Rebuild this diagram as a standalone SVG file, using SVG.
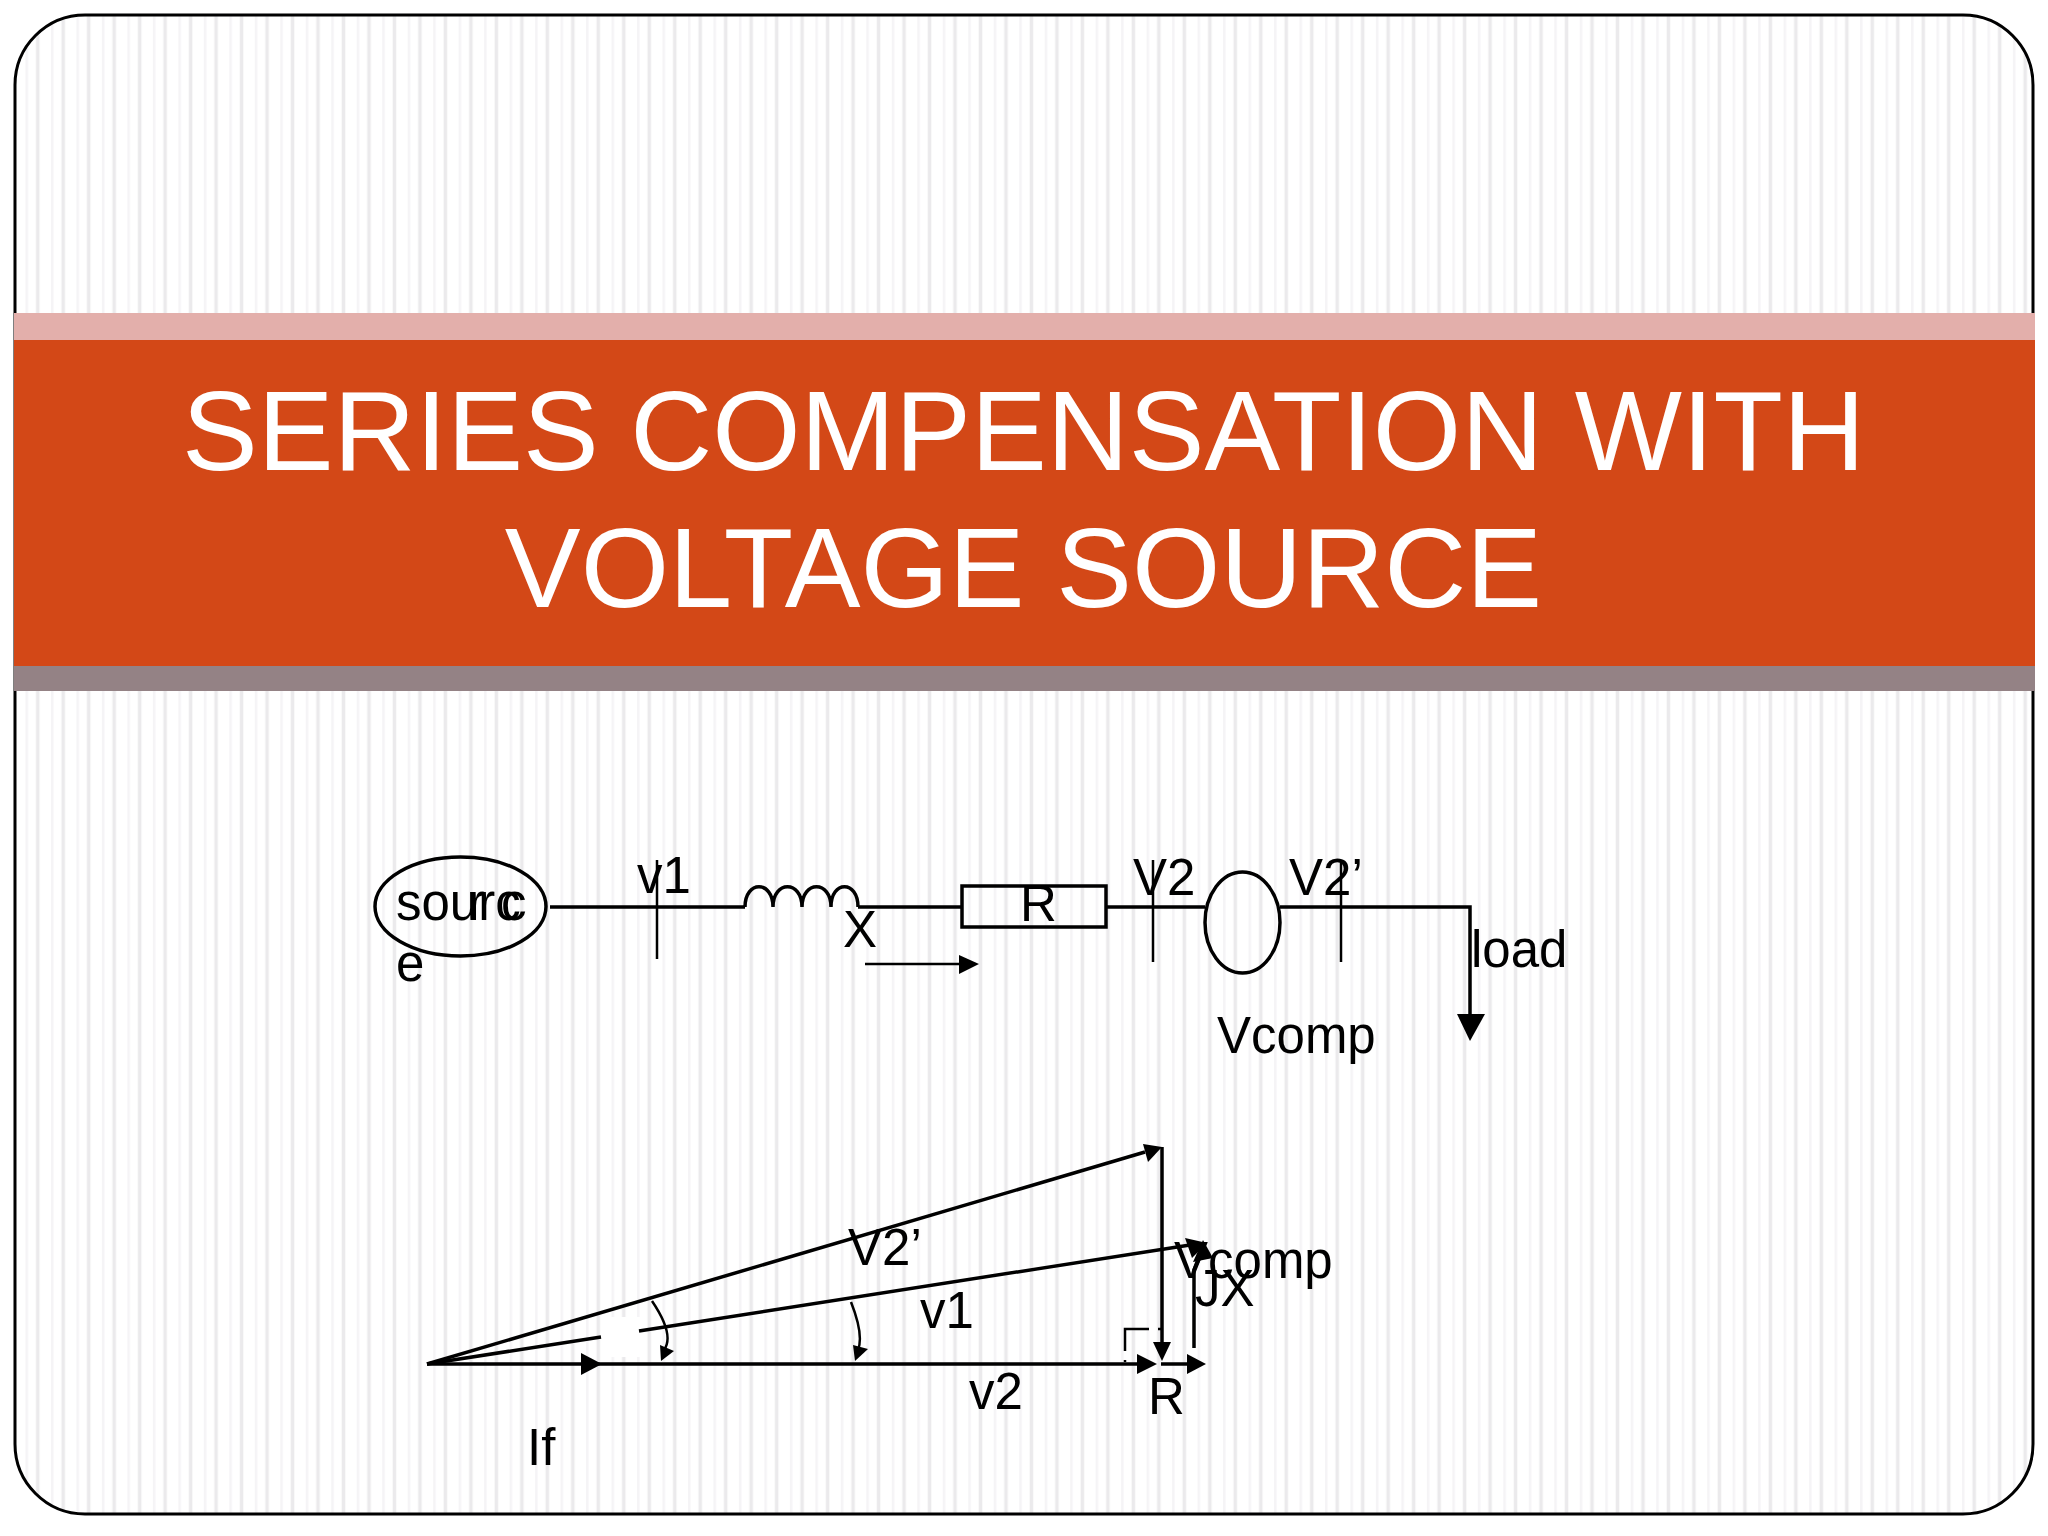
<svg xmlns="http://www.w3.org/2000/svg" width="2048" height="1536" viewBox="0 0 2048 1536">
<style>
text{font-family:"Liberation Sans",Arial,sans-serif;fill:#000}
.l{font-size:51px}
.t{font-size:113.6px;fill:#fff;text-anchor:middle}
.w{fill:none;stroke:#000;stroke-width:3.5}
.n{fill:none;stroke:#000;stroke-width:2.5}
.h{fill:#000;stroke:none}
</style>
<defs>
<pattern id="st" patternUnits="userSpaceOnUse" x="0" y="0" width="25.48" height="40">
<rect x="0" y="0" width="25.48" height="40" fill="#fff"/>
<rect x="0" y="0" width="2.5" height="40" fill="#f5f4f6"/>
<rect x="10.5" y="0" width="3.5" height="40" fill="#ebeaec"/>
</pattern>
</defs>
<rect width="2048" height="1536" fill="#fff"/>
<g id="background">
<rect x="15" y="15" width="2018" height="1499" rx="70" fill="url(#st)"/>
<rect x="15" y="15" width="2018" height="1499" rx="70" fill="none" stroke="#000" stroke-width="3"/>
<rect x="14" y="313" width="2021" height="27" fill="#e3afab"/>
<rect x="14" y="340" width="2021" height="326" fill="#d34817"/>
<rect x="14" y="666" width="2021" height="25" fill="#948285"/>
<rect x="602" y="1317" width="41" height="40" fill="#fff"/>
</g>
<g id="title">
<text class="t" x="1023.5" y="470">SERIES COMPENSATION WITH</text>
<text class="t" x="1023.5" y="607">VOLTAGE SOURCE</text>
</g>
<g id="connectors">
<path class="w" d="M550 907H745M858 907H961M1105 907H1205M1280 907H1470V1016"/>
<path class="n" d="M657 860V959M1153 860V962M1341 860V962M865 964H962"/>
<path class="w" d="M427 1364H1140M1161 1364H1190M1162 1147V1345"/>
<path class="w" d="M427 1364L1145 1152"/>
<path class="w" d="M427 1364L601 1337M639 1331L1190 1245"/>
<path class="w" d="M1194 1348V1270L1203 1250"/>
<path class="n" d="M652 1301Q675 1335 664 1350M851 1302Q864 1335 858 1350"/>
<path class="n" d="M1125 1351V1329H1149M1158 1329H1161M1125 1360V1362"/>
<path class="h" d="M979 964L959 955V974Z"/>
<path class="h" d="M1470 1041L1457 1014H1485Z"/>
<path class="h" d="M602 1364L581 1353V1375Z"/>
<path class="h" d="M1157 1364L1137 1354V1374Z"/>
<path class="h" d="M1206 1364L1187 1354V1374Z"/>
<path class="h" d="M1162 1147L1143 1144L1148 1162Z"/>
<path class="h" d="M1162 1361L1153 1342H1171Z"/>
<path class="h" d="M1207 1243L1185 1238L1192 1258Z"/>
<path class="h" d="M1203 1240L1193 1262L1213 1258Z"/>
<path class="h" d="M661 1361L660 1345L674 1351Z"/>
<path class="h" d="M855 1361L853 1345L868 1349Z"/>
</g>
<g id="source"><ellipse class="w" cx="460.5" cy="906.5" rx="85.5" ry="49.5"/><text class="l" x="396" y="920">sourc</text><text class="l" x="468 501" y="920">rc</text><text class="l" x="396" y="981">e</text></g>
<g id="inductor"><path class="w" d="M745 907C745 880 773 880 773 907C773 880 802 880 802 907C802 880 831 880 831 907C831 880 858 880 858 907"/><text class="l" x="843" y="947">X</text></g>
<g id="resistor"><rect class="w" x="962" y="886" width="144" height="41"/><text class="l" x="1020" y="921">R</text></g>
<g id="vcomp-source"><ellipse class="w" cx="1242.5" cy="922.5" rx="37.5" ry="50.5"/><text class="l" x="1217" y="1053">Vcomp</text></g>
<g id="labels">
<text class="l" x="637" y="893">v1</text>
<text class="l" x="1133" y="895">V2</text>
<text class="l" x="1289" y="895">V2’</text>
<text class="l" x="1471" y="967">load</text>
<text class="l" x="848" y="1265">V2’</text>
<text class="l" x="920" y="1328">v1</text>
<text class="l" x="969" y="1409">v2</text>
<text class="l" x="1148" y="1414">R</text>
<text class="l" x="527" y="1465">If</text>
<text class="l" x="1174" y="1278">Vcomp</text>
<text class="l" x="1195" y="1306">JX</text>
</g>
</svg>
